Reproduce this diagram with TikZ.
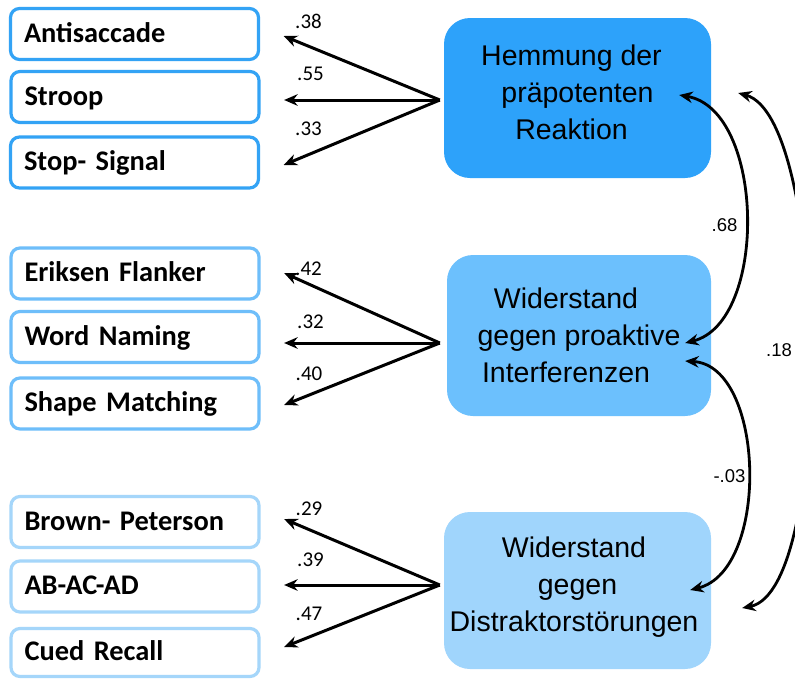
\documentclass[tikz,border=0pt]{standalone}
\usepackage{fontspec}
\newfontfamily\carlito{Carlito}
\newfontfamily\carlitotask{Carlito}[WordSpace=0.65]
\newfontfamily\arialfont{Liberation Sans}
\usetikzlibrary{arrows.meta}

\definecolor{lineA}{HTML}{33A3F5}
\definecolor{lineB}{HTML}{6EBEFA}
\definecolor{lineC}{HTML}{A5D6FA}
\definecolor{fillA}{HTML}{2DA2FA}
\definecolor{fillB}{HTML}{6CC0FD}
\definecolor{fillC}{HTML}{A0D5FC}

\begin{document}
\begin{tikzpicture}[
  x=1pt, y=-1pt,
  >={Stealth[length=13.5pt,width=11.5pt]},
  taskbox/.style={draw, line width=3.2pt, rounded corners=9pt, fill=white,
    inner xsep=13.5pt, text width=221pt, align=left,
    minimum height=51pt, text height=18pt, text depth=2pt,
    font=\carlitotask\bfseries\fontsize{28.4}{33}\selectfont},
  factor/.style={rounded corners=26pt, align=center, inner sep=0pt,
    font=\arialfont\fontsize{28.5}{37}\selectfont},
  loading/.style={line width=3pt, ->},
  covar/.style={line width=2.8pt, <->},
  wlabel/.style={inner sep=0pt, font=\carlito\fontsize{21}{25}\selectfont},
  clabel/.style={inner sep=0pt, font=\arialfont\fontsize{18.5}{22}\selectfont}
]
\useasboundingbox (0,0) rectangle (795,678);
\clip (0,0) rectangle (795,678);
\fill[white] (0,0) rectangle (795,678);

% latent factors (extra text depth lifts the lines a little inside the box)
\node[factor, fill=fillA, minimum width=267pt, minimum height=160pt, text depth=12pt] (h1) at (577.5,98)
  {Hemmung der\hspace*{12pt}\\präpotenten\hspace*{12pt}\\Reaktion\hspace*{12pt}};
\node[factor, fill=fillB, minimum width=264pt, minimum height=161pt] (h2) at (579,335.5)
  {Widerstand\hspace*{26pt}\\gegen proaktive\hspace*{26pt}\\Interferenzen\hspace*{26pt}};
\node[factor, fill=fillC, minimum width=267pt, minimum height=157pt, text depth=12pt] (h3) at (577.5,590.5)
  {Widerstand\hspace*{7pt}\\gegen\hspace*{7pt}\\Distraktorstörungen\hspace*{7pt}};

% indicator tasks
\node[taskbox, draw=lineA] (a1) at (134.5,34) {Antisaccade};
\node[taskbox, draw=lineA] (a2) at (135,97) {Stroop};
\node[taskbox, draw=lineA] (a3) at (134.5,162.5) {Stop- Signal};
\node[taskbox, draw=lineB] (b1) at (135,273.5) {Eriksen Flanker};
\node[taskbox, draw=lineB] (b2) at (135,337) {Word Naming};
\node[taskbox, draw=lineB] (b3) at (135,403.5) {Shape Matching};
\node[taskbox, draw=lineC] (c1) at (135,522) {Brown- Peterson};
\node[taskbox, draw=lineC] (c2) at (135,586.5) {AB-AC-AD};
\node[taskbox, draw=lineC, minimum height=48pt] (c3) at (135,652.5) {Cued Recall};

% factor loadings
\draw[loading] ([xshift=-4pt,yshift=-2pt]h1.west) -- ([xshift=23.5pt,yshift=-2pt]a1.east);
\draw[loading] ([xshift=-4pt,yshift=-2pt]h1.west) -- ([xshift=23.5pt,yshift=-3pt]a2.east);
\draw[loading] ([xshift=-4pt,yshift=-2pt]h1.west) -- ([xshift=23.5pt,yshift=-2.5pt]a3.east);
\draw[loading] ([xshift=-7pt,yshift=-7.5pt]h2.west) -- ([xshift=23.5pt,yshift=0.5pt]b1.east);
\draw[loading] ([xshift=-7pt,yshift=-7.5pt]h2.west) -- ([xshift=23.5pt,yshift=-6pt]b2.east);
\draw[loading] ([xshift=-7pt,yshift=-7.5pt]h2.west) -- ([xshift=23.5pt,yshift=-1.5pt]b3.east);
\draw[loading] ([xshift=-4pt,yshift=5.5pt]h3.west) -- ([xshift=23.5pt,yshift=3pt]c1.east);
\draw[loading] ([xshift=-4pt,yshift=5.5pt]h3.west) -- ([xshift=23.5pt,yshift=1.5pt]c2.east);
\draw[loading] ([xshift=-4pt,yshift=5.5pt]h3.west) -- ([xshift=23.5pt,yshift=5.5pt]c3.east);

\node[wlabel] (l1) at (308.5,21.5) {.38};
\node[wlabel] (l2) at (310.5,73.5) {.55};
\node[wlabel] (l3) at (308.5,128.5) {.33};
\node[wlabel] (l4) at (308.5,268.5) {.42};
\node[wlabel] (l5) at (310.5,321.5) {.32};
\node[wlabel] (l6) at (309,373.5) {.40};
\node[wlabel] (l7) at (309,508.5) {.29};
\node[wlabel] (l8) at (310.5,559.5) {.39};
\node[wlabel] (l9) at (309,614) {.47};

% factor correlations
\draw[covar] ([xshift=-32pt,yshift=3pt]h1.east)
  .. controls +(86,15) and +(83,-21) .. ([xshift=-26pt,yshift=-7.5pt]h2.east);
\draw[covar] ([xshift=-26pt,yshift=-25.5pt]h2.east)
  .. controls +(80,5) and +(80,-20) .. ([xshift=-21pt,yshift=0.5pt]h3.east);
\draw[covar] ([xshift=27pt,yshift=5pt]h1.east)
  .. controls +(90,25) and +(92,-18) .. ([xshift=31pt,yshift=-17.5pt]h3.east);

\node[clabel] (r1) at (724.5,225) {.68};
\node[clabel] (r2) at (729.5,476.5) {-.03};
\node[clabel] (r3) at (779,350) {.18};
\end{tikzpicture}
\end{document}
